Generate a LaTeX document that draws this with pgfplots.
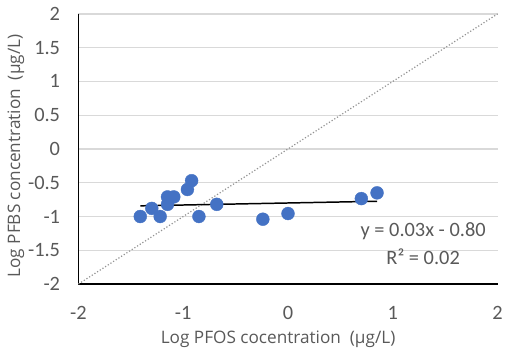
\documentclass[border=0pt]{standalone}
\usepackage{fontspec}
\setmainfont{Carlito}
\newfontfamily\labelfont{Open Sans}
\usepackage{pgfplots}
\pgfplotsset{compat=1.18}
\definecolor{txt}{HTML}{595959}
\definecolor{gridc}{HTML}{D9D9D9}
\definecolor{blu}{HTML}{4472C4}
\begin{document}
\begin{tikzpicture}
\begin{axis}[
  scale only axis, width=422bp, height=272bp,
  xmin=-2, xmax=2, ymin=-2, ymax=2,
  axis line style={draw=none},
  xtick={-2,-1,0,1,2}, xticklabels={-2,-1,0,1,2},
  ytick={-2,-1.5,-1,-0.5,0,0.5,1,1.5,2},
  yticklabels={-2,-1.5,-1,-0.5,0,0.5,1,1.5,2},
  tick style={draw=none},
  ymajorgrids, grid style={gridc, line width=1.3bp},
  ticklabel style={font=\fontsize{20.5bp}{22bp}\selectfont, text=txt},
  xticklabel style={yshift=-19bp},
  yticklabel style={xshift=-15bp},
  xlabel={Log PFOS cocentration\ \ (µg/L)},
  ylabel={Log PFBS concentration\ \ (µg/L)},
  label style={font=\labelfont\fontsize{17.3bp}{19bp}\selectfont, text=txt},
  xlabel style={at={(axis description cs:0.5,-0.205)}, anchor=center, xshift=-10bp},
  ylabel style={at={(axis description cs:-0.149,0.474)}, anchor=center},
  clip=false,
]
\draw[black, line width=1.5bp] (axis cs:-2,2) -- (axis cs:-2,-2) -- (axis cs:2,-2);
\addplot[gray!85, dotted, line width=1.2bp] coordinates {(-2,-2) (2,2)};
\addplot[only marks, mark=*, mark size=6.5bp, mark options={fill=blu, draw=blu}] coordinates {
(-1.41,-1.00) (-1.30,-0.88) (-1.22,-1.00) (-1.15,-0.82) (-1.15,-0.71)
(-1.09,-0.71) (-0.96,-0.60) (-0.92,-0.47) (-0.85,-1.00) (-0.68,-0.82)
(-0.24,-1.04) (0.00,-0.956) (0.70,-0.735) (0.85,-0.65)
};
\addplot[black, line width=1.5bp] coordinates {(-1.41,-0.842) (0.85,-0.7745)};
\node[text=txt, font=\fontsize{20.5bp}{22bp}\selectfont] at (axis cs:1.29,-1.22) {y = 0.03x - 0.80};
\node[text=txt, font=\fontsize{20.5bp}{22bp}\selectfont] at (axis cs:1.29,-1.60) {R² = 0.02};
\end{axis}
\path[use as bounding box] (-79bp,-64bp) rectangle (427bp,286bp);
\end{tikzpicture}
\end{document}
